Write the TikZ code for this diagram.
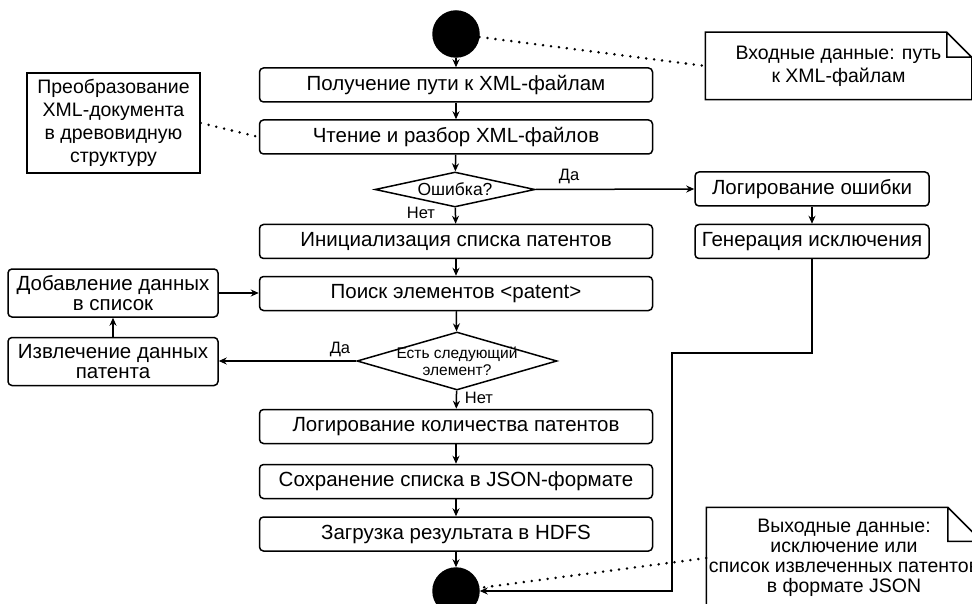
\documentclass[tikz,border=0pt]{standalone}
\usepackage{fontspec}
\setmainfont{Liberation Sans}
\usetikzlibrary{positioning,arrows.meta,shapes.geometric}

\begin{document}
\begin{tikzpicture}[
    x=1pt, y=-1pt,
    every node/.style={font=\fontsize{20.5}{23}\selectfont, line width=1.5pt},
    act/.style={rectangle, draw, rounded corners=4pt, minimum width=393pt, minimum height=34pt, inner sep=0pt},
    errbox/.style={act, minimum width=234pt},
    side/.style={act, minimum width=210pt, minimum height=48pt, align=center, font=\fontsize{20.5}{20}\selectfont},
    cond/.style={diamond, draw, inner sep=0pt},
    term/.style={circle, draw, fill=black, minimum size=46pt, inner sep=0pt},
    note/.style={rectangle, align=center, inner sep=0pt, font=\fontsize{19.5}{23}\selectfont},
    small/.style={font=\fontsize{16.5}{17}\selectfont, inner sep=1pt, align=center},
    flow/.style={-{Stealth[length=8pt,width=7pt]}, line width=1.5pt},
    link/.style={line width=2.8pt, dash pattern=on 0pt off 8pt, line cap=round}
]
\useasboundingbox (0,0) rectangle (972,604);
\clip (0,0) rectangle (972,604);

\node[term] (start) at (456,34) {};
\node[act] (get) at (456,85) {Получение пути к XML-файлам};
\node[act] (read) at (456,137) {Чтение и разбор XML-файлов};
\node[cond, minimum width=160pt, minimum height=35pt, label={[small, font=\fontsize{17.5}{17}\selectfont]center:Ошибка?}] (err) at (455,189.5) {};
\node[errbox] (logerr) at (812,189) {Логирование ошибки};
\node[errbox] (gen) at (812,241.5) {Генерация исключения};
\node[act] (init) at (456,241.5) {Инициализация списка патентов};
\node[act] (find) at (456,293.5) {Поиск элементов <patent>};
\node[cond, minimum width=200pt, minimum height=58pt, label={[small, font=\fontsize{15.5}{17}\selectfont]center:Есть следующий\\элемент?}] (next) at (457,361) {};
\node[side] (add) at (113,293) {Добавление данных\\в список};
\node[side] (extr) at (113,361.5) {Извлечение данных\\патента};
\node[act] (count) at (456,426.5) {Логирование количества патентов};
\node[act] (save) at (456,481.5) {Сохранение списка в JSON-формате};
\node[act] (load) at (456,534) {Загрузка результата в HDFS};
\node[term] (stop) at (456,591) {};

\node[small] (yes1) at (569,176) {Да};
\node[small] (no1) at (421,213) {Нет};
\node[small] (yes2) at (340,349) {Да};
\node[small] (no2) at (479,398) {Нет};

\node[note, draw, minimum width=173pt, minimum height=100pt] (tree) at (113.5,123) {Преобразование\\XML-документа\\в древовидную\\структуру};
\node[note, minimum width=265pt, minimum height=66pt] (inp) at (838.5,66) {Входные данные: путь\\к XML-файлам};
\node[note, minimum width=274pt, minimum height=100pt, font=\fontsize{19.5}{20}\selectfont] (outp) at (844,558) {Выходные данные:\\исключение или\\список извлеченных патентов\\в формате JSON};
\draw[line width=1.5pt] (inp.north west) -- ([xshift=-25pt]inp.north east) -- ([yshift=-25pt]inp.north east) -- (inp.south east) -- (inp.south west) -- cycle
    ([xshift=-25pt]inp.north east) |- ([yshift=-25pt]inp.north east);
\draw[line width=1.5pt] (outp.north west) -- ([xshift=-34pt]outp.north east) -- ([yshift=-34pt]outp.north east) -- (outp.south east) -- (outp.south west) -- cycle
    ([xshift=-34pt]outp.north east) |- ([yshift=-34pt]outp.north east);

\draw[flow] (start) -- (get);
\draw[flow] (get) -- (read);
\draw[flow] (read) -- (err);
\draw[flow] (err) -- (init);
\draw[flow] (err.east) -- (logerr.west);
\draw[flow] (logerr) -- (gen);
\draw[flow] (init) -- (find);
\draw[flow] (find) -- (next);
\draw[flow] (next.west) -- (next.west -| extr.east);
\draw[flow] (extr) -- (add);
\draw[flow] (add.east) -- (add.east -| find.west);
\draw[flow] (next) -- (count);
\draw[flow] (count) -- (save);
\draw[flow] (save) -- (load);
\draw[flow] (load) -- (stop);
\draw[flow] (gen.south) |- (672,353) |- (stop.east);

\draw[link] (tree.east) -- (read.west);
\draw[link] (start) -- (inp.west);
\draw[link] (outp.west) -- (stop);
\end{tikzpicture}
\end{document}
